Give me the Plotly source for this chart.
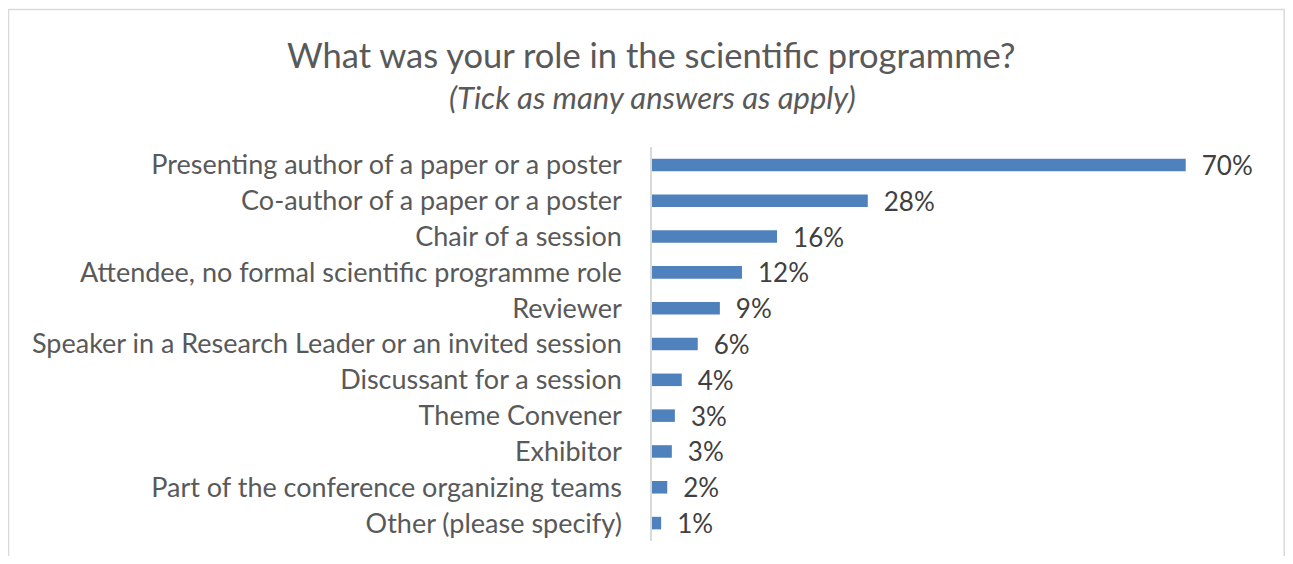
import plotly.graph_objects as go

categories = [
    "Presenting author of a paper or a poster",
    "Co-author of a paper or a poster",
    "Chair of a session",
    "Attendee, no formal scientific programme role",
    "Reviewer",
    "Speaker in a Research Leader or an invited session",
    "Discussant for a session",
    "Theme Convener",
    "Exhibitor",
    "Part of the conference organizing teams",
    "Other (please specify)",
]
values = [70.0, 28.3, 16.4, 11.8, 8.9, 6.0, 3.9, 3.0, 2.6, 2.0, 1.2]
labels = ["70%", "28%", "16%", "12%", "9%", "6%", "4%", "3%", "3%", "2%", "1%"]

title_text = "What was your role in the scientific programme?"
subtitle_text = "<i>(Tick as many answers as apply)</i>"

# page body has an 8px default margin: work in reference coords, shift by OFF
OFF = 8
W, H = 1293 - 2 * OFF, 564 - 2 * OFF
L, R, T, B = 652 - OFF, 1262 - OFF, 147 - OFF, 541 - OFF

def px(x):
    return (x - OFF - L) / (R - L)

def py(y):
    return (B - (y - OFF)) / (B - T)

FONT = "Lato"

fig = go.Figure(
    go.Bar(
        x=values,
        y=categories,
        orientation="h",
        marker=dict(color="#4F81BD", line=dict(width=0)),
        width=0.35,
        text=labels,
        texttemplate="\u2002%{text}",
        textposition="outside",
        textfont=dict(family=FONT, size=26, color="#404040"),
        constraintext="none",
        cliponaxis=False,
        hoverinfo="x+y",
    )
)

fig.update_layout(
    width=W,
    height=H,
    margin=dict(l=L, r=W - R, t=T, b=H - B, pad=0),
    paper_bgcolor="white",
    plot_bgcolor="white",
    showlegend=False,
    font=dict(family=FONT, color="#595959"),
    xaxis=dict(range=[0, 80], visible=False, fixedrange=True),
    yaxis=dict(
        autorange="reversed",
        range=[10.5, -0.5],
        showline=True,
        linecolor="#D9D9D9",
        linewidth=1.5,
        showgrid=False,
        zeroline=False,
        ticks="",
        ticklabelstandoff=23,
        tickfont=dict(family=FONT, size=27, color="#595959"),
        fixedrange=True,
    ),
    annotations=[
        dict(text=title_text, x=px(651), y=py(55), xref="paper", yref="paper",
             xanchor="center", yanchor="middle", showarrow=False,
             font=dict(family=FONT, size=34.5, color="#595959")),
        dict(text=subtitle_text, x=px(652), y=py(97), xref="paper", yref="paper",
             xanchor="center", yanchor="middle", showarrow=False,
             font=dict(family=FONT, size=31, color="#595959")),
    ],
    shapes=[
        dict(type="rect", xref="paper", yref="paper",
             x0=px(8.5), x1=px(1284.2), y0=py(590), y1=py(9.5),
             line=dict(color="#D9D9D9", width=1.5), fillcolor="rgba(0,0,0,0)",
             layer="below"),
    ],
)

fig.write_html("out.html")
